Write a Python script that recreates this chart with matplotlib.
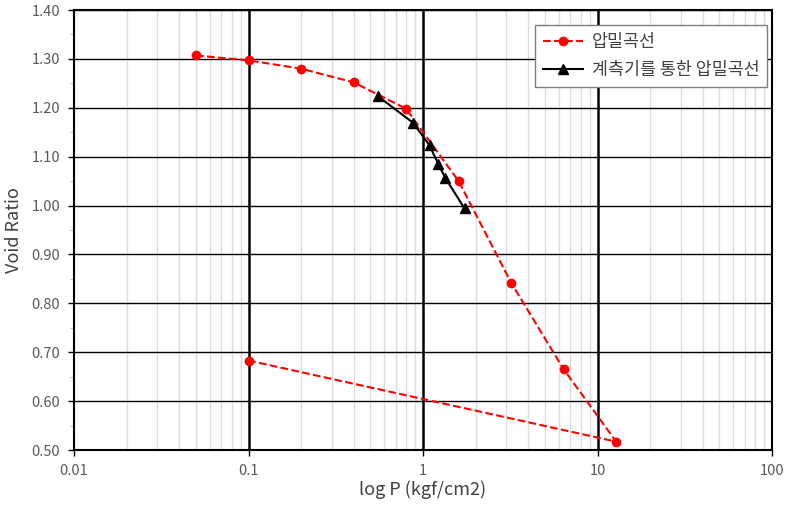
import matplotlib.pyplot as plt
from matplotlib.ticker import LogLocator, MultipleLocator, FixedLocator, FixedFormatter
import numpy as np

plt.rcParams['font.family'] = ['Noto Sans CJK KR', 'DejaVu Sans']

# consolidation curve (red)
pressure = [0.05, 0.1, 0.2, 0.4, 0.8, 1.6, 3.2, 6.4, 12.8, 0.1]
void_ratio = [1.307, 1.297, 1.280, 1.252, 1.198, 1.050, 0.842, 0.665, 0.517, 0.683]

# curve from instrument (black)
pressure_inst = [0.55, 0.88, 1.09, 1.22, 1.34, 1.73]
void_inst = [1.224, 1.169, 1.123, 1.086, 1.057, 0.994]

label_red = '압밀곡선'
label_black = '계측기를 통한 압밀곡선'
x_ticks = [0.01, 0.1, 1, 10, 100]
x_tick_labels = ['0.01', '0.1', '1', '10', '100']

fig = plt.figure(figsize=(7.85, 5.07), dpi=100)
ax = fig.add_axes([74 / 785, 57 / 507, 698 / 785, 440 / 507])

ax.set_xscale('log')
ax.set_xlim(0.01, 100)
ax.set_ylim(0.5, 1.4)

# grid
ax.xaxis.set_minor_locator(LogLocator(base=10, subs=np.arange(2, 10)))
ax.yaxis.set_major_locator(MultipleLocator(0.1))
ax.yaxis.set_minor_locator(MultipleLocator(0.05))
ax.grid(which='minor', axis='x', color='#dcdcdc', linewidth=1.0)
ax.grid(which='major', axis='y', color='black', linewidth=1.0)
for xv in [0.1, 1, 10]:
    ax.axvline(xv, color='black', linewidth=1.8, zorder=1.5)
ax.set_axisbelow(True)

ax.plot(pressure, void_ratio, color='#ff0000', linestyle='--', linewidth=1.5,
        marker='o', markersize=6, label=label_red, zorder=3)
ax.plot(pressure_inst, void_inst, color='black', linestyle='-', linewidth=1.5,
        marker='^', markersize=6.5, label=label_black, zorder=4)

ax.xaxis.set_major_locator(FixedLocator(x_ticks))
ax.xaxis.set_major_formatter(FixedFormatter(x_tick_labels))
ax.xaxis.set_minor_formatter(FixedFormatter([]))
ax.yaxis.set_major_formatter(plt.FuncFormatter(lambda v, p: f'{v:.2f}'))

ax.tick_params(axis='both', which='major', labelsize=10.5, labelcolor='#595959',
               direction='out', length=4, width=1, pad=6)
ax.tick_params(axis='x', which='minor', length=0)
ax.tick_params(axis='y', which='minor', direction='out', length=3, width=0.8, color='#bfbfbf')

for sp in ax.spines.values():
    sp.set_color('black')
    sp.set_linewidth(1.5)

ax.set_xlabel('log P (kgf/cm2)', fontsize=13, color='#404040', labelpad=2)
ax.set_ylabel('Void Ratio', fontsize=13, color='#404040', labelpad=6)

leg = ax.legend(loc='upper right', bbox_to_anchor=(0.993, 0.966), borderaxespad=0,
                fontsize=12.5, frameon=True, fancybox=False, edgecolor='#7f7f7f',
                framealpha=1, handlelength=2.3, handletextpad=0.5, borderpad=0.45,
                labelspacing=0.6)
leg.get_frame().set_linewidth(1.0)
for t in leg.get_texts():
    t.set_color('#404040')

fig.savefig('out.png', dpi=100)
